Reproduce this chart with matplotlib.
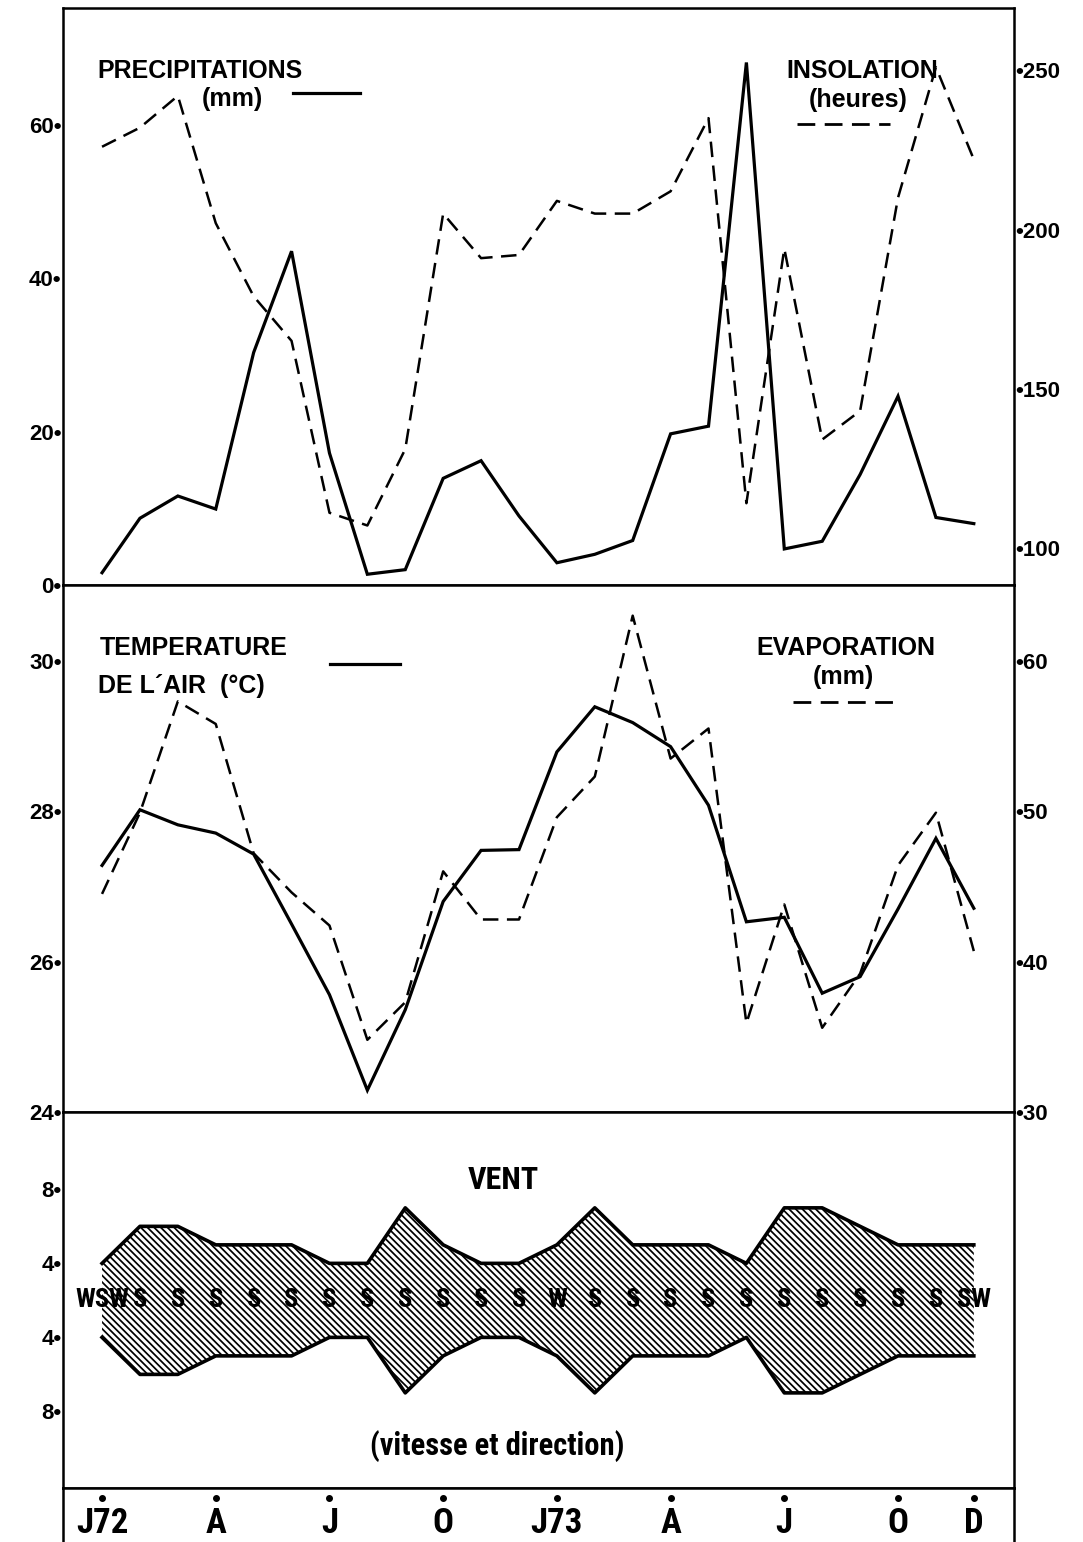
import numpy as np
import matplotlib
matplotlib.use("Agg")
import matplotlib.pyplot as plt
from matplotlib.lines import Line2D
from matplotlib import font_manager

# ---------------- data (Jan 1972 .. Dec 1973) ----------------
MONTHS = list(range(24))
PRECIP = [1.6, 8.7, 11.6, 9.9, 30.3, 43.5, 17.2, 1.4, 2.0, 13.9, 16.2, 9.0,
          2.9, 4.0, 5.8, 19.7, 20.7, 68.1, 4.7, 5.7, 14.4, 24.6, 8.8, 8.0]
INSOL = [226, 232, 242, 202, 179, 165, 111, 107, 131, 205, 191, 192,
         209, 205, 205, 212, 235, 114, 194, 134, 143, 210, 251, 222]
TEMP = [27.28, 28.02, 27.82, 27.71, 27.43, 26.50, 25.56, 24.29, 25.36, 26.80, 27.48, 27.49,
        28.79, 29.39, 29.18, 28.86, 28.08, 26.53, 26.59, 25.58, 25.80, 26.70, 27.64, 26.71]
EVAP = [44.5, 49.9, 57.3, 55.8, 47.2, 44.6, 42.4, 34.8, 37.3, 46.0, 42.8, 42.8,
        49.6, 52.3, 63.0, 53.5, 55.5, 35.9, 43.8, 35.6, 39.2, 46.4, 49.9, 40.7]
WIND_SPEED = [4, 6, 6, 5, 5, 5, 4, 4, 7, 5, 4, 4, 5, 7, 5, 5, 5, 4, 7, 7, 6, 5, 5, 5]
WIND_DIR = ['WSW'] + ['S'] * 11 + ['W'] + ['S'] * 10 + ['SW']
MONTH_TICKS = [0, 3, 6, 9, 12, 15, 18, 21, 23]
MONTH_LABELS = ['J72', 'A', 'J', 'O', 'J73', 'A', 'J', 'O', 'D']

PRECIP_TICKS = [0, 20, 40, 60]
INSOL_TICKS = [100, 150, 200, 250]
TEMP_TICKS = [24, 26, 28, 30]
EVAP_TICKS = [30, 40, 50, 60]
WIND_TICK_VALUES = [8, 4, 4, 8]
WIND_BASE = 2          # band half-width offset (scale of the original drawing)

# ---------------- style ----------------
plt.rcParams['font.family'] = ['Liberation Sans', 'DejaVu Sans']
plt.rcParams['hatch.linewidth'] = 1.25
plt.rcParams['hatch.color'] = 'black'

_names = {f.name for f in font_manager.fontManager.ttflist}
NARROW = [n for n in ('Roboto Condensed', 'Liberation Sans Narrow', 'DejaVu Sans Condensed')
          if n in _names] + ['Liberation Sans', 'DejaVu Sans']

W, H = 1083, 1542
fig = plt.figure(figsize=(W / 100, H / 100), dpi=100)
fig.patch.set_facecolor('white')

def fy(py):
    return 1 - py / H

L, R = 63 / W, 1014 / W
XLIM = (-1.03, 24.06)

ax1 = fig.add_axes([L, fy(585), R - L, fy(8) - fy(585)])
ax2 = fig.add_axes([L, fy(1112), R - L, fy(585) - fy(1112)])
ax3 = fig.add_axes([L, fy(1488), R - L, fy(1112) - fy(1488)])
ax4 = fig.add_axes([L, 0, R - L, fy(1488)])
ax1r = ax1.twinx()
ax2r = ax2.twinx()

x = np.array(MONTHS)
SOLID = dict(color='black', lw=2.3, solid_joinstyle='miter')
DASH = dict(color='black', lw=1.8, linestyle=(0, (6.2, 3.4)))
LEG_DASH = (0, (6.4, 3.4))

for ax in (ax1, ax2, ax3, ax4):
    ax.set_xlim(*XLIM)
    ax.set_xticks([])
    for s in ax.spines.values():
        s.set_linewidth(1.8)
for ax in (ax1r, ax2r):
    for s in ax.spines.values():
        s.set_visible(False)

tick_font = dict(fontsize=16, fontweight='bold')

# ---- panel 1: precipitation / insolation
ax1.plot(x, PRECIP, **SOLID)
ax1r.plot(x, INSOL, **DASH)
ax1.set_ylim(0, 75.2)
ax1r.set_ylim(88.3, 269.6)
ax1.set_yticks(PRECIP_TICKS, [f'{v}•' for v in PRECIP_TICKS], **tick_font)
ax1r.set_yticks(INSOL_TICKS, [f'•{v}' for v in INSOL_TICKS], **tick_font)

# ---- panel 2: temperature / evaporation
ax2.plot(x, TEMP, **SOLID)
ax2r.plot(x, EVAP, **DASH)
ax2.set_ylim(24, 31.01)
ax2r.set_ylim(30, 65.04)
ax2.set_yticks(TEMP_TICKS, [f'{v}•' for v in TEMP_TICKS], **tick_font)
ax2r.set_yticks(EVAP_TICKS, [f'•{v}' for v in EVAP_TICKS], **tick_font)

for ax in (ax1, ax2, ax1r, ax2r):
    ax.tick_params(axis='y', length=0, pad=1)

# ---- panel 3: wind band
speed = np.array(WIND_SPEED, dtype=float)
upper = speed - WIND_BASE
lower = -(speed - WIND_BASE)
ax3.fill_between(x, lower, upper, facecolor='white', edgecolor='black',
                 hatch='\\\\\\\\\\', linewidth=0, zorder=1)
ax3.plot(x, upper, color='black', lw=2.6, zorder=3)
ax3.plot(x, lower, color='black', lw=2.6, zorder=3)
for xi, d in zip(x, WIND_DIR):
    ax3.text(xi, 0, d, ha='center', va='center', fontsize=19, fontweight='bold',
             family=NARROW, zorder=4)
ax3.set_ylim(-10.14, 10.18)
wt = [s - WIND_BASE for s in WIND_TICK_VALUES]
wt = [wt[0], wt[1], -wt[2], -wt[3]]
ax3.set_yticks(wt, [f'{v}•' for v in WIND_TICK_VALUES], **tick_font)
ax3.tick_params(axis='y', length=0, pad=1)

# ---- bottom month strip
ax4.set_ylim(0, 1)
ax4.set_yticks([])
ax4.spines['bottom'].set_visible(False)
ax4.plot(MONTH_TICKS, [0.82] * len(MONTH_TICKS), 'o', color='black', ms=4)
for xi, lab in zip(MONTH_TICKS, MONTH_LABELS):
    ax4.text(xi, 0.34, lab, ha='center', va='center', fontsize=25,
             fontweight='bold', family=NARROW)

# ---- titles / legends
title = dict(fontsize=18, fontweight='bold', color='black')
fig.text(97 / W, fy(71), 'PRECIPITATIONS', ha='left', va='center', **title)
fig.text(232 / W, fy(99), '(mm)', ha='center', va='center', **title)
fig.add_artist(Line2D([293 / W, 360 / W], [fy(93), fy(93)], color='black', lw=2.3))

fig.text(862 / W, fy(71), 'INSOLATION', ha='center', va='center', **title)
fig.text(858 / W, fy(100), '(heures)', ha='center', va='center', **title)
fig.add_artist(Line2D([797 / W, 890 / W], [fy(124), fy(124)], color='black', lw=2.0,
                      linestyle=LEG_DASH))

fig.text(100 / W, fy(648), 'TEMPERATURE', ha='left', va='center', **title)
fig.text(98 / W, fy(686), 'DE L´AIR  (°C)', ha='left', va='center', **title)
fig.add_artist(Line2D([330 / W, 400 / W], [fy(664), fy(664)], color='black', lw=2.3))

fig.text(846 / W, fy(648), 'EVAPORATION', ha='center', va='center', **title)
fig.text(843 / W, fy(677), '(mm)', ha='center', va='center', **title)
fig.add_artist(Line2D([793 / W, 893 / W], [fy(702), fy(702)], color='black', lw=2.0,
                      linestyle=LEG_DASH))

fig.text(503 / W, fy(1180), 'VENT', ha='center', va='center', fontsize=23,
         fontweight='bold', family=NARROW)
fig.text(497 / W, fy(1446), '(vitesse et direction)', ha='center', va='center',
         fontsize=22, fontweight='bold', family=NARROW)

fig.savefig('out.png', dpi=100, facecolor='white')
